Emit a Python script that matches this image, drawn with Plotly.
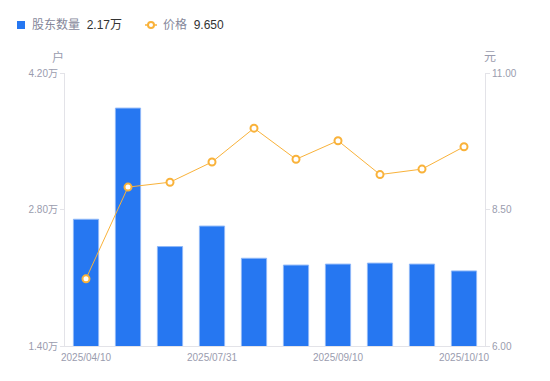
import plotly.graph_objects as go

dates = ["2025/04/10", "2025/04/30", "2025/06/30", "2025/07/31", "2025/08/20",
         "2025/08/31", "2025/09/10", "2025/09/19", "2025/09/30", "2025/10/10"]
holders = [2.70, 3.84, 2.42, 2.63, 2.30, 2.23, 2.24, 2.25, 2.24, 2.17]  # 万户
price = [7.23, 8.91, 9.00, 9.37, 9.99, 9.42, 9.76, 9.14, 9.24, 9.65]

left_ticks = [1.40, 2.80, 4.20]
right_ticks = [6.00, 8.50, 11.00]
x_tick_idx = [0, 3, 6, 9]

GRAY = "#9a9cae"
LEG = "#85879a"
AXIS = "#e3e3e8"
BLUE = "#2677F1"
ORANGE = "#F9B23A"
FONT = "Liberation Sans, Noto Sans CJK SC, sans-serif"

# figure is placed at an 8px body offset by the page
W, H = 542, 373
L, R, T, B = 57, 65, 65, 35
PW, PH = W - L - R, H - T - B


def px(x):
    return (x - 8 - L) / PW


def py(y):
    return (H - B - (y - 8)) / PH


xs = list(range(len(dates)))

fig = go.Figure()
fig.add_trace(go.Bar(
    x=xs, y=holders, name="股东数量",
    marker=dict(color=BLUE, line=dict(color="#8fb8f8", width=1)),
    width=0.6, yaxis="y",
))
fig.add_trace(go.Scatter(
    x=xs, y=price, mode="lines+markers", name="价格",
    line=dict(color=ORANGE, width=1),
    marker=dict(symbol="circle", size=7, color="white", line=dict(color=ORANGE, width=2)),
    yaxis="y2",
))

shapes = [
    dict(type="rect", xref="paper", yref="paper", x0=px(17), x1=px(25), y0=py(29), y1=py(21),
         fillcolor=BLUE, line=dict(width=0)),
    dict(type="line", xref="paper", yref="paper", x0=px(145), x1=px(157), y0=py(25), y1=py(25),
         line=dict(color=ORANGE, width=1.5)),
    dict(type="circle", xref="paper", yref="paper", x0=px(148), x1=px(154), y0=py(28), y1=py(22),
         fillcolor="white", line=dict(color=ORANGE, width=2)),
]

annotations = [
    dict(text=f"股东数量  <span style='color:#333'>{holders[-1]:.2f}万</span>",
         xref="paper", yref="paper", x=px(30), y=py(25), showarrow=False,
         xanchor="left", yanchor="middle", font=dict(size=12, color=LEG)),
    dict(text=f"价格  <span style='color:#333'>{price[-1]:.3f}</span>",
         xref="paper", yref="paper", x=px(161), y=py(25), showarrow=False,
         xanchor="left", yanchor="middle", font=dict(size=12, color=LEG)),
    dict(text="户", xref="paper", yref="paper", x=px(58), y=py(57), showarrow=False,
         font=dict(size=12, color=GRAY), xanchor="center", yanchor="middle"),
    dict(text="元", xref="paper", yref="paper", x=px(490), y=py(57), showarrow=False,
         font=dict(size=12, color=GRAY), xanchor="center", yanchor="middle"),
]

fig.update_layout(
    width=W, height=H,
    margin=dict(l=L, r=R, t=T, b=B, autoexpand=False),
    paper_bgcolor="white", plot_bgcolor="white",
    font=dict(family=FONT, size=10, color=GRAY),
    showlegend=False,
    xaxis=dict(
        range=[-0.5, len(dates) - 0.5],
        tickmode="array", tickvals=x_tick_idx, ticktext=[dates[i] for i in x_tick_idx],
        showline=True, linecolor=AXIS, linewidth=1, ticks="", showgrid=False,
        zeroline=False, tickfont=dict(size=10, color=GRAY), ticklabelstandoff=2,
    ),
    yaxis=dict(
        range=[left_ticks[0], left_ticks[-1]],
        tickmode="array", tickvals=left_ticks, ticktext=[f"{v:.2f}万" for v in left_ticks],
        showline=True, linecolor=AXIS, linewidth=1, ticks="outside", ticklen=4,
        tickcolor=AXIS, showgrid=False, zeroline=False, tickfont=dict(size=10, color=GRAY),
    ),
    yaxis2=dict(
        range=[right_ticks[0], right_ticks[-1]], overlaying="y", side="right",
        tickmode="array", tickvals=right_ticks, ticktext=[f"{v:.2f}" for v in right_ticks],
        showline=True, linecolor=AXIS, linewidth=1, ticks="outside", ticklen=4,
        tickcolor=AXIS, showgrid=False, zeroline=False, tickfont=dict(size=10, color=GRAY),
    ),
    shapes=shapes,
    annotations=annotations,
)

fig.write_html("out.html")
